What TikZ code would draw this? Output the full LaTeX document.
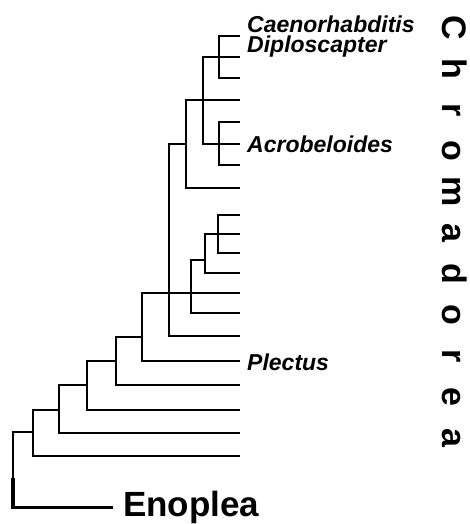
\documentclass[tikz,border=0pt]{standalone}
\usepackage{fontspec}
\setmainfont{Liberation Sans}
\begin{document}
\begin{tikzpicture}[x=1pt,y=-1pt,
  branch/.style={line width=1.9pt},
  rootline/.style={line width=3.3pt},
  taxon/.style={font=\bfseries\itshape\fontsize{23}{23}\selectfont, anchor=base west, inner sep=0pt},
  cladeletter/.style={font=\bfseries\fontsize{34}{34}\selectfont, rotate=-90, anchor=base, inner sep=0pt},
  outgroup/.style={font=\bfseries\fontsize{35}{35}\selectfont, anchor=base west, inner xsep=10pt, inner ysep=0pt}]
\useasboundingbox (0,0) rectangle (469,524);
% tips
\foreach \i/\y in {1/36,2/57,3/78,4/100,5/122,6/144,7/165,8/188,9/215,10/234,11/253,12/273,13/293,14/313,15/336,16/361,17/385,18/410,19/433,20/456}
  \coordinate (t\i) at (240,\y);
% internal nodes
\coordinate (n1) at (219,57);
\coordinate (n2) at (219,144);
\coordinate (n3) at (203,100);
\coordinate (n4) at (186,144);
\coordinate (n5) at (218,234);
\coordinate (n6) at (205,260);
\coordinate (n7) at (191,293);
\coordinate (n8) at (169,293);
\coordinate (n9) at (142,337);
\coordinate (n10) at (116,361);
\coordinate (n11) at (87,385);
\coordinate (n12) at (59,410);
\coordinate (n13) at (33,432);
\coordinate (root) at (13,478);
% labels
\node[taxon] (lc) at (247,32.5) {Caenorhabditis};
\node[taxon] (ld) at (247,53) {Diploscapter};
\node[taxon] (la) at (247,152) {Acrobeloides};
\node[taxon] (lp) at (247,370) {Plectus};
\node[outgroup] (en) at (113,516.5) {Enoplea};
\foreach \l [count=\i from 0] in {C,h,r,o,m,a,d,o,r,e,a}
  \node[cladeletter] (c\i) at (442.5,{28+41*\i}) {\l};
% branches
\draw[branch] (n1) |- (t1);  \draw[branch] (n1) |- (t2);  \draw[branch] (n1) |- (t3);
\draw[branch] (n2) |- (t5);  \draw[branch] (n2) |- (t6);  \draw[branch] (n2) |- (t7);
\draw[branch] (n3) |- (n1);  \draw[branch] (n3) |- (t4);  \draw[branch] (n3) |- (n2);
\draw[branch] (n4) |- (n3);  \draw[branch] (n4) |- (t8);
\draw[branch] (n5) |- (t9);  \draw[branch] (n5) |- (t10); \draw[branch] (n5) |- (t11);
\draw[branch] (n6) |- (n5);  \draw[branch] (n6) |- (t12);
\draw[branch] (n7) |- (n6);  \draw[branch] (n7) |- (t13); \draw[branch] (n7) |- (t14);
\draw[branch] (n8) |- (n4);  \draw[branch] (n8) |- (n7);  \draw[branch] (n8) |- (t15);
\draw[branch] (n9) |- (n8);  \draw[branch] (n9) |- (t16);
\draw[branch] (n10) |- (n9); \draw[branch] (n10) |- (t17);
\draw[branch] (n11) |- (n10); \draw[branch] (n11) |- (t18);
\draw[branch] (n12) |- (n11); \draw[branch] (n12) |- (t19);
\draw[branch] (n13) |- (n12); \draw[branch] (n13) |- (t20);
\draw[branch] (root) |- (n13);
\draw[rootline] (root) |- (en.west);
\end{tikzpicture}
\end{document}
